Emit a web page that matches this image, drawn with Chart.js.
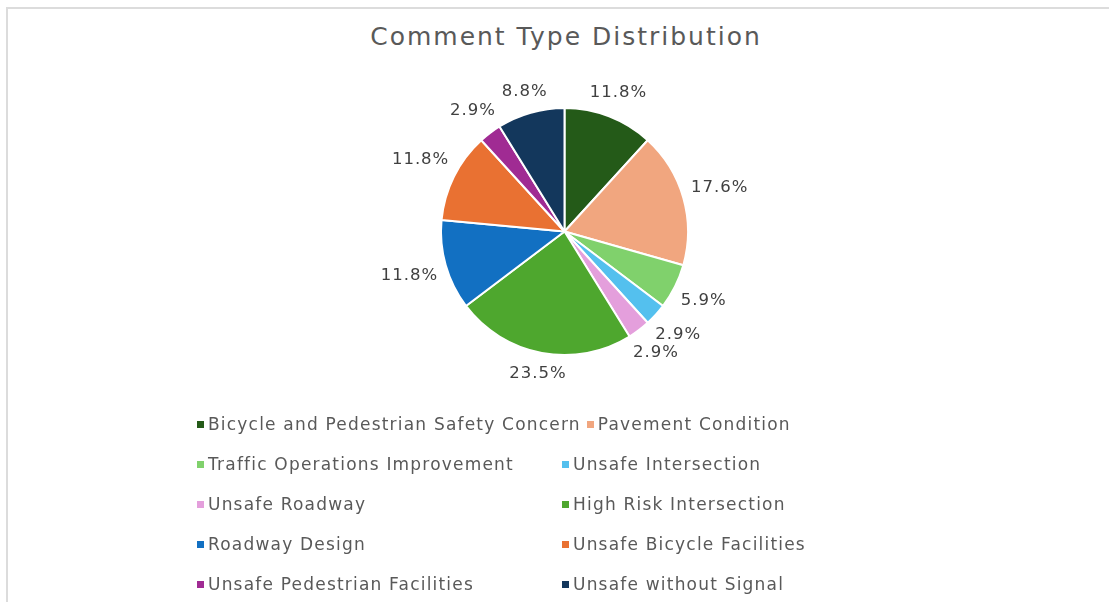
<!DOCTYPE html>
<html>
<head>
<meta charset="utf-8">
<script src="https://cdn.jsdelivr.net/npm/chart.js@4.4.1/dist/chart.umd.min.js"></script>
<style>
  html, body { margin: 0; padding: 0; background: #fff; }
  #wrap { position: relative; width: 1109px; height: 602px; overflow: hidden; }
  #frame { position: absolute; left: 6px; top: 7px; right: -10px; bottom: -10px; border: 2px solid #dcdcdc; }
  #title { position: absolute; left: 0; width: 1132px; top: 22px; text-align: center;
           font-family: "DejaVu Sans", sans-serif; font-size: 25px; letter-spacing: 2px; color: #595959; }
  canvas { position: absolute; left: 0; top: 0; }
  #legend { position: absolute; left: 197px; top: 404px; font-family: "DejaVu Sans", sans-serif;
            font-size: 17px; letter-spacing: 1.2px; color: #595959; }
  .row { display: flex; height: 40px; align-items: center; white-space: nowrap; }
  .item { display: flex; align-items: center; }
  .item.first { min-width: 359px; margin-right: 6px; }
  .box { width: 7px; height: 7px; margin-right: 4px; }
</style>
</head>
<body>
<div id="wrap">
  <div id="frame"></div>
  <div id="title">Comment Type Distribution</div>
  <canvas id="pie" width="1109" height="602"></canvas>
  <div id="legend"></div>
</div>
<script>
// comment categories and counts (34 comments total)
const categories = [
  'Bicycle and Pedestrian Safety Concern',
  'Pavement Condition',
  'Traffic Operations Improvement',
  'Unsafe Intersection',
  'Unsafe Roadway',
  'High Risk Intersection',
  'Roadway Design',
  'Unsafe Bicycle Facilities',
  'Unsafe Pedestrian Facilities',
  'Unsafe without Signal'
];
const counts = [4, 6, 2, 1, 1, 8, 4, 4, 1, 3];
const colors = [
  '#245a18', '#f1a67f', '#80d16c', '#54c0ee', '#e49fdc',
  '#4ea72e', '#1270c2', '#e97132', '#a02b93', '#13375c'
];

const total = counts.reduce((a, b) => a + b, 0);

// outside-end percentage labels
const outsideLabels = {
  id: 'outsideLabels',
  afterDatasetsDraw(chart) {
    const ctx = chart.ctx;
    const arcs = chart.getDatasetMeta(0).data;
    ctx.save();
    ctx.font = '16.5px "DejaVu Sans", sans-serif';
    if ('letterSpacing' in ctx) ctx.letterSpacing = '1px';
    ctx.fillStyle = '#404040';
    ctx.textAlign = 'center';
    ctx.textBaseline = 'middle';
    arcs.forEach((arc, i) => {
      const p = arc.getProps(['x', 'y', 'startAngle', 'endAngle', 'outerRadius'], true);
      const mid = (p.startAngle + p.endAngle) / 2;
      const txt = (counts[i] / total * 100).toFixed(1) + '%';
      const w = ctx.measureText(txt).width;
      const h = 16;
      const cx = Math.cos(mid), cy = Math.sin(mid);
      const d = p.outerRadius + 8 + Math.abs(cx) * w / 2 + Math.abs(cy) * h / 2;
      ctx.fillText(txt, p.x + cx * d, p.y + cy * d);
    });
    ctx.restore();
  }
};

new Chart(document.getElementById('pie'), {
  type: 'pie',
  data: {
    labels: categories,
    datasets: [{
      data: counts,
      backgroundColor: colors,
      borderColor: '#ffffff',
      borderWidth: 2
    }]
  },
  options: {
    responsive: false,
    animation: false,
    layout: { padding: { top: 107, bottom: 246, left: 440, right: 420 } },
    plugins: {
      legend: { display: false },
      tooltip: { enabled: false },
      title: { display: false }
    }
  },
  plugins: [outsideLabels]
});

// two-column legend, row by row like the original
const legend = document.getElementById('legend');
for (let i = 0; i < categories.length; i += 2) {
  const row = document.createElement('div');
  row.className = 'row';
  [i, i + 1].forEach((k, j) => {
    const it = document.createElement('div');
    it.className = 'item' + (j === 0 ? ' first' : '');
    it.innerHTML = '<span class="box" style="background:' + colors[k] + '"></span>' + categories[k];
    row.appendChild(it);
  });
  legend.appendChild(row);
}
</script>
</body>
</html>
